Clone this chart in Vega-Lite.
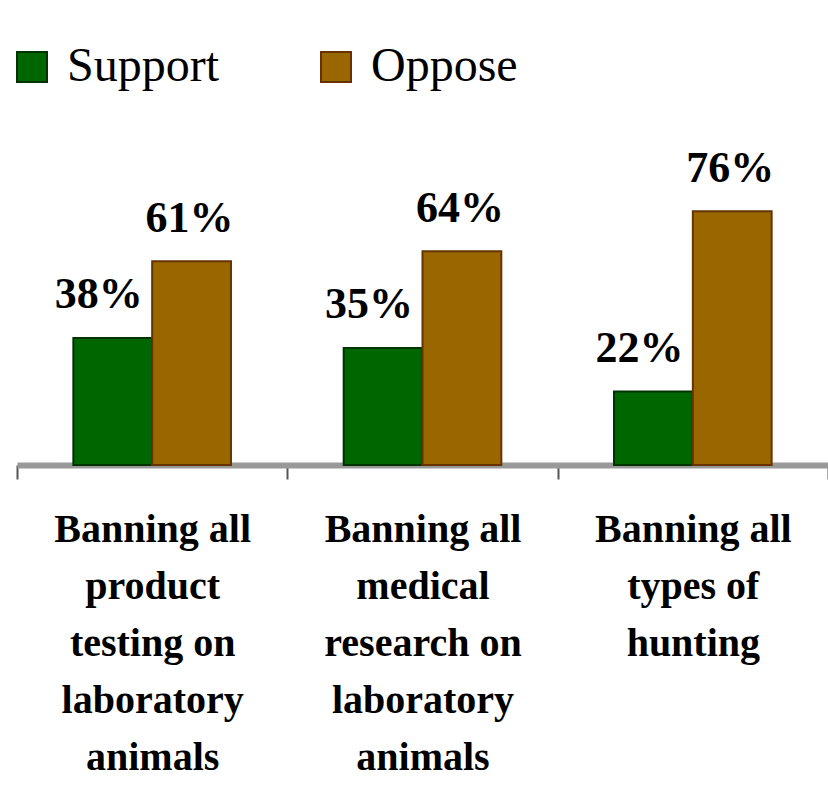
{
  "$schema": "https://vega.github.io/schema/vega-lite/v6.json",
  "autosize": "none",
  "width": 811,
  "height": 334,
  "padding": {"left": 17, "top": 131, "right": 0, "bottom": 337},
  "background": "#ffffff",
  "data": {
    "values": [
      {"topic": "Banning all|product|testing on|laboratory|animals", "answer": "Support", "share": 0.38},
      {"topic": "Banning all|product|testing on|laboratory|animals", "answer": "Oppose", "share": 0.61},
      {"topic": "Banning all|medical|research on|laboratory|animals", "answer": "Support", "share": 0.35},
      {"topic": "Banning all|medical|research on|laboratory|animals", "answer": "Oppose", "share": 0.64},
      {"topic": "Banning all|types of|hunting", "answer": "Support", "share": 0.22},
      {"topic": "Banning all|types of|hunting", "answer": "Oppose", "share": 0.76}
    ]
  },
  "encoding": {
    "x": {
      "field": "topic",
      "type": "nominal",
      "sort": null,
      "title": null,
      "scale": {"paddingInner": 0, "paddingOuter": 0},
      "axis": {
        "labelAngle": 0,
        "labelExpr": "datum.value ? split(datum.value, '|') : ''",
        "labelFont": "Liberation Serif",
        "labelFontWeight": "bold",
        "labelFontSize": 40,
        "labelLineHeight": 57,
        "labelColor": "#000000",
        "labelPadding": 30,
        "labelLimit": 0,
        "tickBand": "extent",
        "tickColor": "#555555",
        "tickWidth": 2,
        "tickSize": 14,
        "domainColor": "#999999",
        "domainWidth": 6
      }
    },
    "xOffset": {
      "field": "answer",
      "type": "nominal",
      "sort": ["Support", "Oppose"],
      "scale": {"paddingInner": 0, "paddingOuter": 0.715}
    },
    "y": {
      "field": "share",
      "type": "quantitative",
      "scale": {"domain": [0, 1]},
      "axis": null
    }
  },
  "layer": [
    {
      "mark": {"type": "bar", "strokeWidth": 2},
      "encoding": {
        "color": {
          "field": "answer",
          "type": "nominal",
          "sort": ["Support", "Oppose"],
          "title": null,
          "scale": {"domain": ["Support", "Oppose"], "range": ["#006600", "#996600"]},
          "legend": {
            "orient": "none",
            "legendX": -9,
            "legendY": -88,
            "direction": "horizontal",
            "padding": 0,
            "symbolType": "square",
            "symbolSize": 900,
            "symbolStrokeColor": "#333333",
            "symbolStrokeWidth": 2,
            "symbolOpacity": 1,
            "labelFont": "Liberation Serif",
            "labelFontSize": 48,
            "labelColor": "#000000",
            "labelOffset": 11,
            "labelLimit": 0,
            "columnPadding": 92
          }
        },
        "stroke": {
          "field": "answer",
          "type": "nominal",
          "scale": {"domain": ["Support", "Oppose"], "range": ["#003300", "#663300"]},
          "legend": null
        }
      }
    },
    {
      "transform": [{"filter": "datum.answer == 'Support'"}],
      "mark": {
        "type": "text",
        "baseline": "alphabetic",
        "dy": -30,
        "dx": -14,
        "font": "Liberation Serif",
        "fontWeight": "bold",
        "fontSize": 44,
        "color": "#000000"
      },
      "encoding": {
        "text": {"field": "share", "type": "quantitative", "format": ".0%"}
      }
    },
    {
      "transform": [{"filter": "datum.answer == 'Oppose'"}],
      "mark": {
        "type": "text",
        "baseline": "alphabetic",
        "dy": -29,
        "dx": -2,
        "font": "Liberation Serif",
        "fontWeight": "bold",
        "fontSize": 44,
        "color": "#000000"
      },
      "encoding": {
        "text": {"field": "share", "type": "quantitative", "format": ".0%"}
      }
    }
  ],
  "config": {
    "view": {"stroke": null},
    "axis": {"grid": false}
  }
}
